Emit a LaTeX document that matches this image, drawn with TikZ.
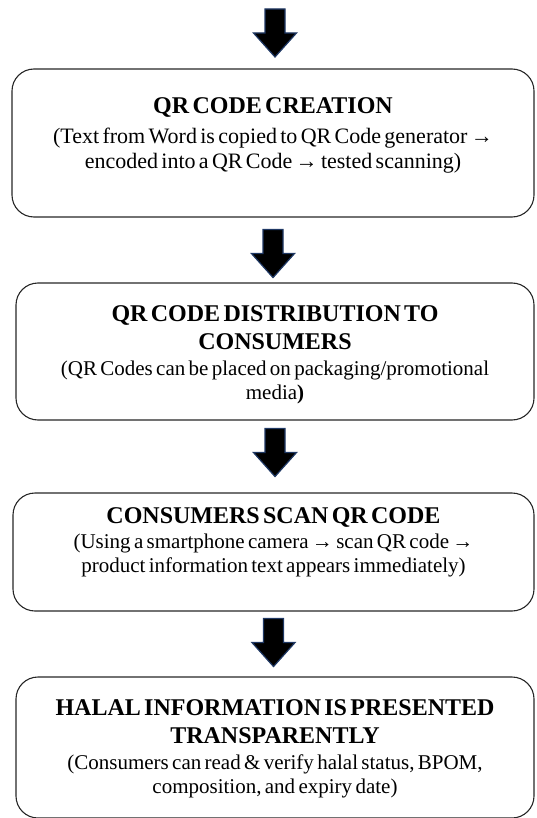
\documentclass[tikz,border=0pt]{standalone}
\usepackage{fontspec}
\setmainfont{Liberation Serif}
\usetikzlibrary{positioning}
\definecolor{arrowline}{RGB}{31,56,100}
\newcommand{\boxtitle}{\fontsize{24}{28}\selectfont\bfseries}
\newcommand{\boxbody}{\fontsize{21}{24}\selectfont\mdseries}
\newcommand{\flowarrow}[1]{%
  \draw[bigarrow] (#1) ++(-10,0) -- ++(20,0) -- ++(0,24) -- ++(11.5,0)
    -- ++(-21.5,24) -- ++(-21.5,-24) -- ++(11.5,0) -- cycle;}
\begin{document}
\begin{tikzpicture}
            [
                x=1pt, y=-1pt,
                stage/.style = {draw=black!85, line width=1.1pt, rounded corners=22pt, inner sep=0pt},
                txt/.style = {align=center, text width=515pt, inner sep=0pt},
                bigarrow/.style = {draw=arrowline, line width=1.2pt, fill=black, line join=miter}
            ]
            \useasboundingbox (0,0) rectangle (536,818);
            \node[stage, minimum width=522pt, minimum height=148pt] (b1) at (273,143) {};
            \node[stage, minimum width=518pt, minimum height=137pt] (b2) at (275,351.5) {};
            \node[stage, minimum width=521pt, minimum height=118pt] (b3) at (273.5,552) {};
            \node[stage, minimum width=518pt, minimum height=141pt] (b4) at (275,747.5) {};
            \node[txt, below=29pt of b1.north] (t1) {\boxtitle QR CODE CREATION\par\vspace{5pt}
                \boxbody\fontsize{22}{25}\selectfont (Text from Word is copied to QR Code generator →\\
                encoded into a QR Code → tested scanning)\par};
            \node[txt, below=23pt of b2.north] (t2) {\boxtitle QR CODE DISTRIBUTION TO\\ CONSUMERS\par\vspace{2pt}
                \boxbody (QR Codes can be placed on packaging/promotional\\
                media\textbf{)}\par};
            \node[txt, below=15pt of b3.north] (t3) {\boxtitle CONSUMERS SCAN QR CODE\par\vspace{1pt}
                \boxbody (Using a smartphone camera → scan QR code →\\
                product information text appears immediately)\par};
            \node[txt, below=23pt of b4.north] (t4) {\boxtitle HALAL INFORMATION IS PRESENTED\\ TRANSPARENTLY\par\vspace{2pt}
                \boxbody (Consumers can read \& verify halal status, BPOM,\\
                composition, and expiry date)\par};
            % block arrows between the stages
            \coordinate (start) at (275,9);
            \flowarrow{start}
            \flowarrow{[yshift=-12pt]b1.south}
            \flowarrow{[yshift=-8pt]b2.south}
            \flowarrow{[yshift=-7pt]b3.south}
        \end{tikzpicture}
\end{document}
